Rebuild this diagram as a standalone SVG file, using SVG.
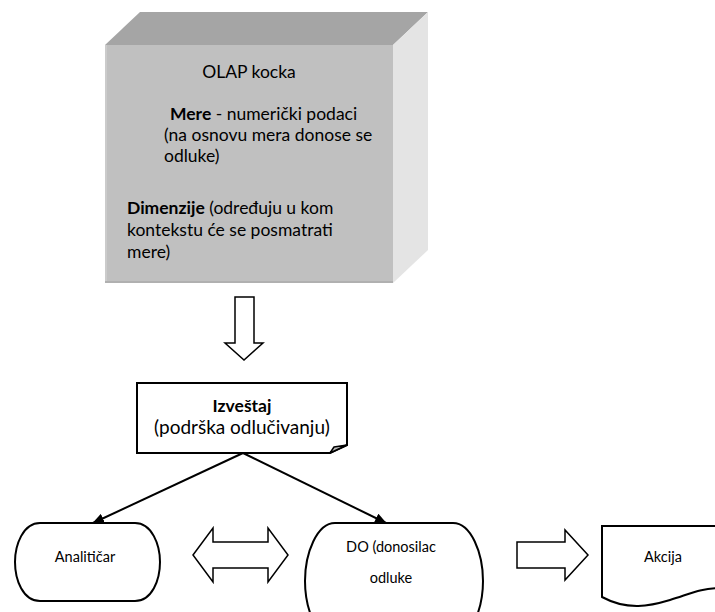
<svg xmlns="http://www.w3.org/2000/svg" width="715" height="612" viewBox="0 0 715 612">
  <style>
    text { font-family: Lato, "Open Sans", "Liberation Sans", sans-serif; fill: #000; }
    .cube { font-size: 17.5px; }
    .doc { font-size: 19px; }
    .title { font-size: 17.5px; font-weight: bold; }
    .lbl { font-size: 14.5px; }
    .b { font-weight: bold; }
    .shape { fill: #fff; stroke: #000; stroke-width: 2; }
    .block { fill: #fff; stroke: #000; stroke-width: 1.5; stroke-linejoin: miter; }
    .conn { fill: none; stroke: #000; stroke-width: 2; }
  </style>
  <defs>
    <marker id="tri" viewBox="0 0 12 10" refX="11" refY="5" markerWidth="12" markerHeight="10" markerUnits="userSpaceOnUse" orient="auto">
      <path d="M0,0 L12,5 L0,10 Z" fill="#000"/>
    </marker>
  </defs>

  <!-- OLAP cube: top, side and front faces -->
  <g id="olap-cube">
    <polygon points="140,12 428,12 393,45 105,45" fill="#a5a5a5"/>
    <polygon points="393,45 428,12 428,250 393,283" fill="#e4e4e4"/>
    <rect x="105" y="45" width="288" height="238" fill="#c0c0c0"/>
    <line x1="106" y1="45" x2="106" y2="283" stroke="#cbcbcb" stroke-width="2"/>
    <line x1="105" y1="282" x2="393" y2="282" stroke="#b0b0b0" stroke-width="2"/>
    <text class="cube" x="249" y="78" text-anchor="middle">OLAP kocka</text>
    <text class="cube" x="170" y="120"><tspan class="b">Mere</tspan> - numerički podaci</text>
    <text class="cube" x="164" y="141">(na osnovu mera donose se</text>
    <text class="cube" x="164" y="162">odluke)</text>
    <text class="cube" x="127" y="214"><tspan class="b">Dimenzije</tspan> (određuju u kom</text>
    <text class="cube" x="127" y="236">kontekstu će se posmatrati</text>
    <text class="cube" x="127" y="258">mere)</text>
  </g>

  <!-- block arrow from cube down to the report -->
  <g id="arrow-down">
    <polygon class="block" points="235,297 254,297 254,343 263,343 244,360 225,343 235,343"/>
  </g>

  <!-- report: document with folded corner -->
  <g id="izvestaj">
    <path class="shape" d="M137,383 H347 V445 L330,453 H137 Z"/>
    <polygon points="330,453 334,447 347,445" fill="#bdbdbd" stroke="#000" stroke-width="1.5" stroke-linejoin="round"/>
    <text class="title" x="242" y="412" text-anchor="middle">Izveštaj</text>
    <text class="doc" x="242" y="434" text-anchor="middle">(podrška odlučivanju)</text>
  </g>

  <g id="analiticar">
    <path class="shape" d="M40,523 H135 C152,523 160,545 160,562 C160,580 152,601 135,601 H40 C23,601 15,580 15,562 C15,545 23,523 40,523 Z"/>
    <text class="lbl" x="85" y="562" text-anchor="middle">Analitičar</text>
  </g>

  <g id="donosilac">
    <path class="shape" d="M335,523 H453 C471,523 483,553 483,581 C483,609 471,639 453,639 H335 C317,639 305,609 305,581 C305,553 317,523 335,523 Z"/>
    <text class="lbl" x="391" y="552" text-anchor="middle">DO (donosilac</text>
    <text class="lbl" x="391" y="583" text-anchor="middle">odluke</text>
  </g>

  <g id="akcija">
    <path class="shape" d="M602,526 H722 V588 C700,588 690,594 670,600 C650,606 628,611 602,597 Z"/>
    <text class="lbl" x="663" y="562" text-anchor="middle">Akcija</text>
  </g>

  <!-- connectors -->
  <g id="connectors">
    <line class="conn" x1="243" y1="453" x2="93" y2="523" marker-end="url(#tri)"/>
    <line class="conn" x1="243" y1="453" x2="386" y2="523" marker-end="url(#tri)"/>
    <polygon class="block" points="193,555 213,528 213,542 268,542 268,528 288,555 268,582 268,568 213,568 213,582"/>
    <polygon class="block" points="517,542 565,542 565,530 588,555 565,580 565,568 517,568"/>
  </g>
</svg>
